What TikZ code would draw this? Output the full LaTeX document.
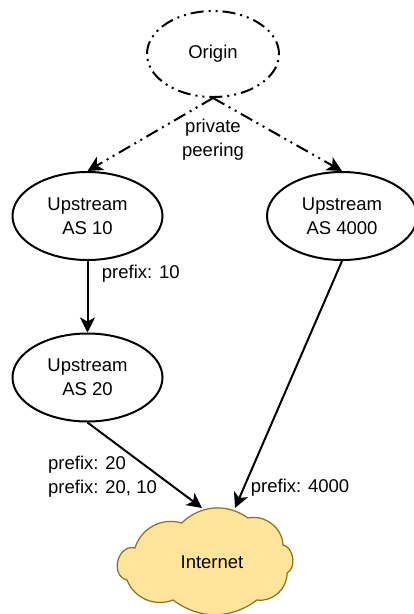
\documentclass[tikz,border=0pt]{standalone}
\usepackage{fontspec}
\setmainfont{Liberation Sans}
\usetikzlibrary{shapes.geometric,arrows.meta}
\definecolor{cloudfill}{HTML}{FFE599}
\definecolor{cloudline}{HTML}{8C6D1F}

\begin{document}
\begin{tikzpicture}[x=1pt,y=-1pt,
  every node/.style={font=\fontsize{18.5}{24}\selectfont},
  as/.style={ellipse,draw,line width=2pt,minimum width=150pt,minimum height=88pt,inner sep=0pt,align=center},
  link/.style={line width=2pt,-{Stealth[length=15pt,width=15pt,inset=4pt]}},
  dashdotdot/.style={dash pattern=on 13pt off 5pt on 2pt off 5pt on 2pt off 5pt},
  lbl/.style={align=left,anchor=west,inner sep=0pt}]

\useasboundingbox (0,0) rectangle (414,614);

% Cloud
\filldraw[fill=cloudfill,draw=cloudline,line width=1.2pt]
  (181.7,523) to[bend left=40] (248,518) to[bend left=50] (283,545)
  to[bend left=70] (287,573) to[bend left=50] (257,600)
  to[bend left=37] (173,600) to[bend left=45] (127,580)
  to[bend left=90,looseness=1.4] (135,548) to[bend left=45] cycle;

% Nodes
\node[as,dashdotdot,minimum width=132pt,minimum height=86pt] (origin) at (213,54) {Origin};
\node[as] (as10) at (87.5,216) {Upstream\\AS 10};
\node[as] (as20) at (87.5,377.5) {Upstream\\AS 20};
\node[as] (as4000) at (342,216) {Upstream\\AS 4000};
\node (internet) at (212,562) {Internet};
\coordinate (inet-l) at (202,508);
\coordinate (inet-r) at (235,508);

% Links
\draw[link,dashdotdot] (origin.south) -- (as10.north);
\draw[link,dashdotdot] (origin.south) -- (as4000.north);
\draw[link] (as10.south) -- (as20.north);
\draw[link] (as20.south) -- (inet-l);
\draw[link] (as4000.south) -- (inet-r);

% Labels
\node[align=center] (peering) at (213,140) {private\\peering};
\node[lbl] (pfx10) at (101.7,274) {prefix: 10};
\node[lbl] (pfx20) at (48,477) {prefix: 20\\prefix: 20, 10};
\node[lbl] (pfx4000) at (250.7,487.5) {prefix: 4000};

\end{tikzpicture}
\end{document}
